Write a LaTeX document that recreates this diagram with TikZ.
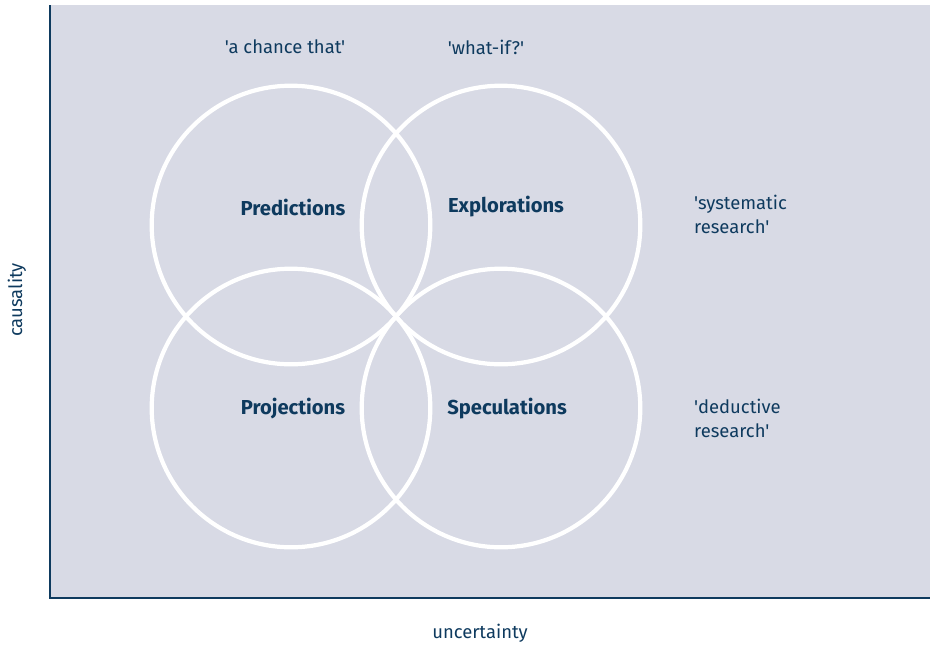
\documentclass[tikz,border=0pt]{standalone}
\usepackage{fontspec}
\setmainfont[Ligatures=TeXOff]{Fira Sans}
\usepackage{tikz}
\usetikzlibrary{positioning}
\definecolor{panel}{HTML}{D8DAE5}
\definecolor{navy}{HTML}{0E3A5E}
\tikzset{
  ring/.style={draw=white, line width=2.4pt},
  field/.style={font=\bfseries\fontsize{11.5}{13}\selectfont, text=navy},
  note/.style={font=\fontsize{10.5}{13.6}\selectfont, text=navy, align=left}
}

\begin{document}
\begin{tikzpicture}[x=0.02cm,y=-0.02cm]
\useasboundingbox (0,0) rectangle (930,647);

% background panel and axes
\fill[panel] (50,5) rectangle (930,598);
\draw[navy, line width=1.1pt] (50,5) -- (50,598) -- (930,598);

% the four circles
\draw[ring] (291,225) circle (139.3);
\draw[ring] (501,225) circle (139.3);
\draw[ring] (291,408) circle (139.3);
\draw[ring] (501,408) circle (139.3);

% circle labels
\node[field] (pred) at (293,207) {Predictions};
\node[field] (expl) at (506,207) {Explorations};
\node[field] (proj) at (293,409) {Projections};
\node[field] (spec) at (507,409) {Speculations};

% quoted notes
\node[note] (chance) at (285,47) {'a chance that'};
\node[note] (whatif) at (486,47) {'what-if?'};
\node[note, anchor=west] (syst) at (688,214) {'systematic\\research'};
\node[note, anchor=west] (dedu) at (688,418) {'deductive\\research'};

% axis labels
\node[note, rotate=90] (caus) at (17,300) {causality};
\node[note] (unce) at (480,633) {uncertainty};
\end{tikzpicture}
\end{document}
